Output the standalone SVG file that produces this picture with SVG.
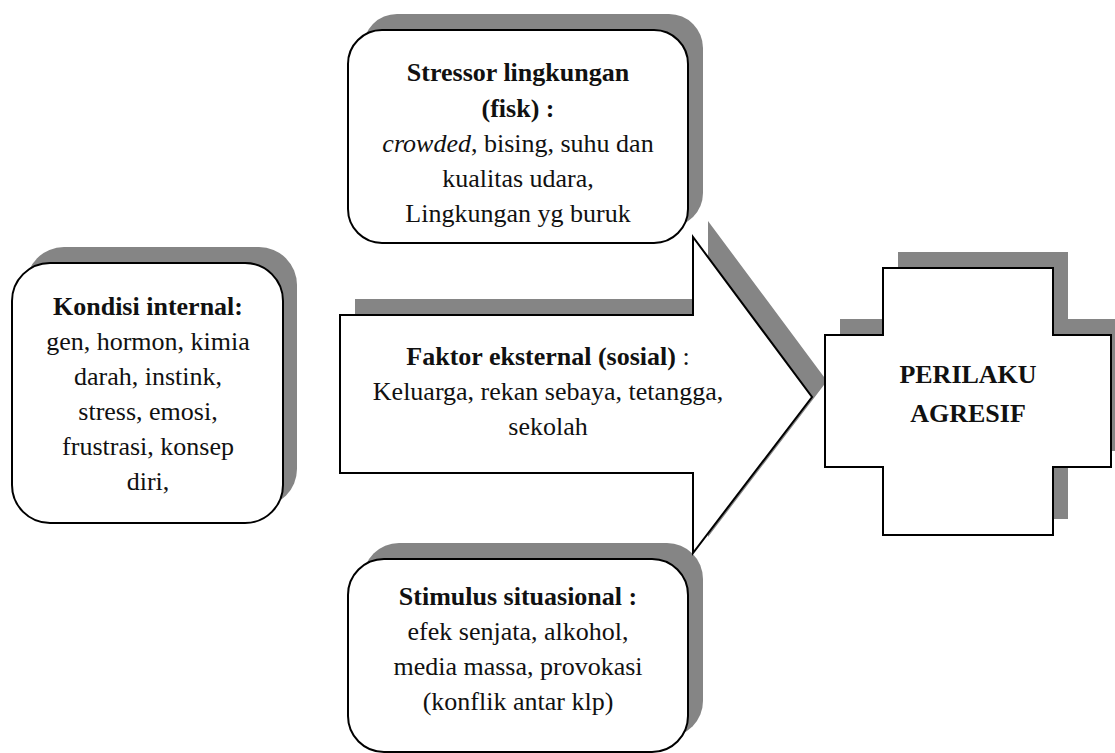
<svg xmlns="http://www.w3.org/2000/svg" width="1115" height="753" viewBox="0 0 1115 753">
<defs>
<style>
.bg{fill:#ffffff}
.shadow{fill:#858585;stroke:none}
.shape{fill:#ffffff;stroke:#000000;stroke-width:2}
.t{font-size:26px;fill:#111111;text-anchor:middle}
.b{font-weight:bold}
.i{font-style:italic}
</style>
</defs>
<rect class="bg" x="0" y="0" width="1115" height="753"/>

<g font-family="'Liberation Serif', 'DejaVu Serif', serif">
<g id="stressor-lingkungan">
<rect class="shadow" x="363" y="14" width="340" height="213" rx="34" ry="34"/>
<rect class="shape" x="348" y="30" width="340" height="213" rx="34" ry="34"/>
<text class="t" x="518" y="81"><tspan class="b">Stressor lingkungan</tspan></text>
<text class="t" x="518" y="117"><tspan class="b">(fisk) :</tspan></text>
<text class="t" x="518" y="152"><tspan class="i">crowded</tspan>, bising, suhu dan</text>
<text class="t" x="518" y="187">kualitas udara,</text>
<text class="t" x="518" y="222">Lingkungan yg buruk</text>
</g>

<g id="kondisi-internal">
<rect class="shadow" x="26" y="247" width="271" height="260" rx="38" ry="38"/>
<rect class="shape" x="12" y="263" width="271" height="260" rx="38" ry="38"/>
<text class="t" x="148" y="315"><tspan class="b">Kondisi internal:</tspan></text>
<text class="t" x="148" y="350">gen, hormon, kimia</text>
<text class="t" x="148" y="385">darah, instink,</text>
<text class="t" x="148" y="420">stress, emosi,</text>
<text class="t" x="148" y="455">frustrasi, konsep</text>
<text class="t" x="148" y="490">diri,</text>
</g>

<g id="stimulus-situasional">
<rect class="shadow" x="363" y="543" width="340" height="194" rx="36" ry="36"/>
<rect class="shape" x="348" y="559" width="340" height="193" rx="36" ry="36"/>
<text class="t" x="518" y="605"><tspan class="b">Stimulus situasional :</tspan></text>
<text class="t" x="518" y="640">efek senjata, alkohol,</text>
<text class="t" x="518" y="675">media massa, provokasi</text>
<text class="t" x="518" y="710">(konflik antar klp)</text>
</g>

<g id="faktor-eksternal">
<polygon class="shadow" points="355,299 708,299 708,221 827,381 708,537 708,457 355,457"/>
<polygon class="shape" points="340,315 693,315 693,237 812,397 693,553 693,473 340,473"/>
<text class="t" x="548" y="365"><tspan class="b">Faktor eksternal (sosial)</tspan> :</text>
<text class="t" x="548" y="400">Keluarga, rekan sebaya, tetangga,</text>
<text class="t" x="548" y="435">sekolah</text>
</g>

<g id="perilaku-agresif">
<polygon class="shadow" points="898,252 1068,252 1068,319 1126,319 1126,451 1068,451 1068,519 898,519 898,451 840,451 840,319 898,319"/>
<polygon class="shape" points="883,268 1053,268 1053,335 1111,335 1111,467 1053,467 1053,535 883,535 883,467 825,467 825,335 883,335"/>
<text class="t b" x="968" y="383">PERILAKU</text>
<text class="t b" x="968" y="422">AGRESIF</text>
</g>
</g>

<g id="connectors"></g>
</svg>
